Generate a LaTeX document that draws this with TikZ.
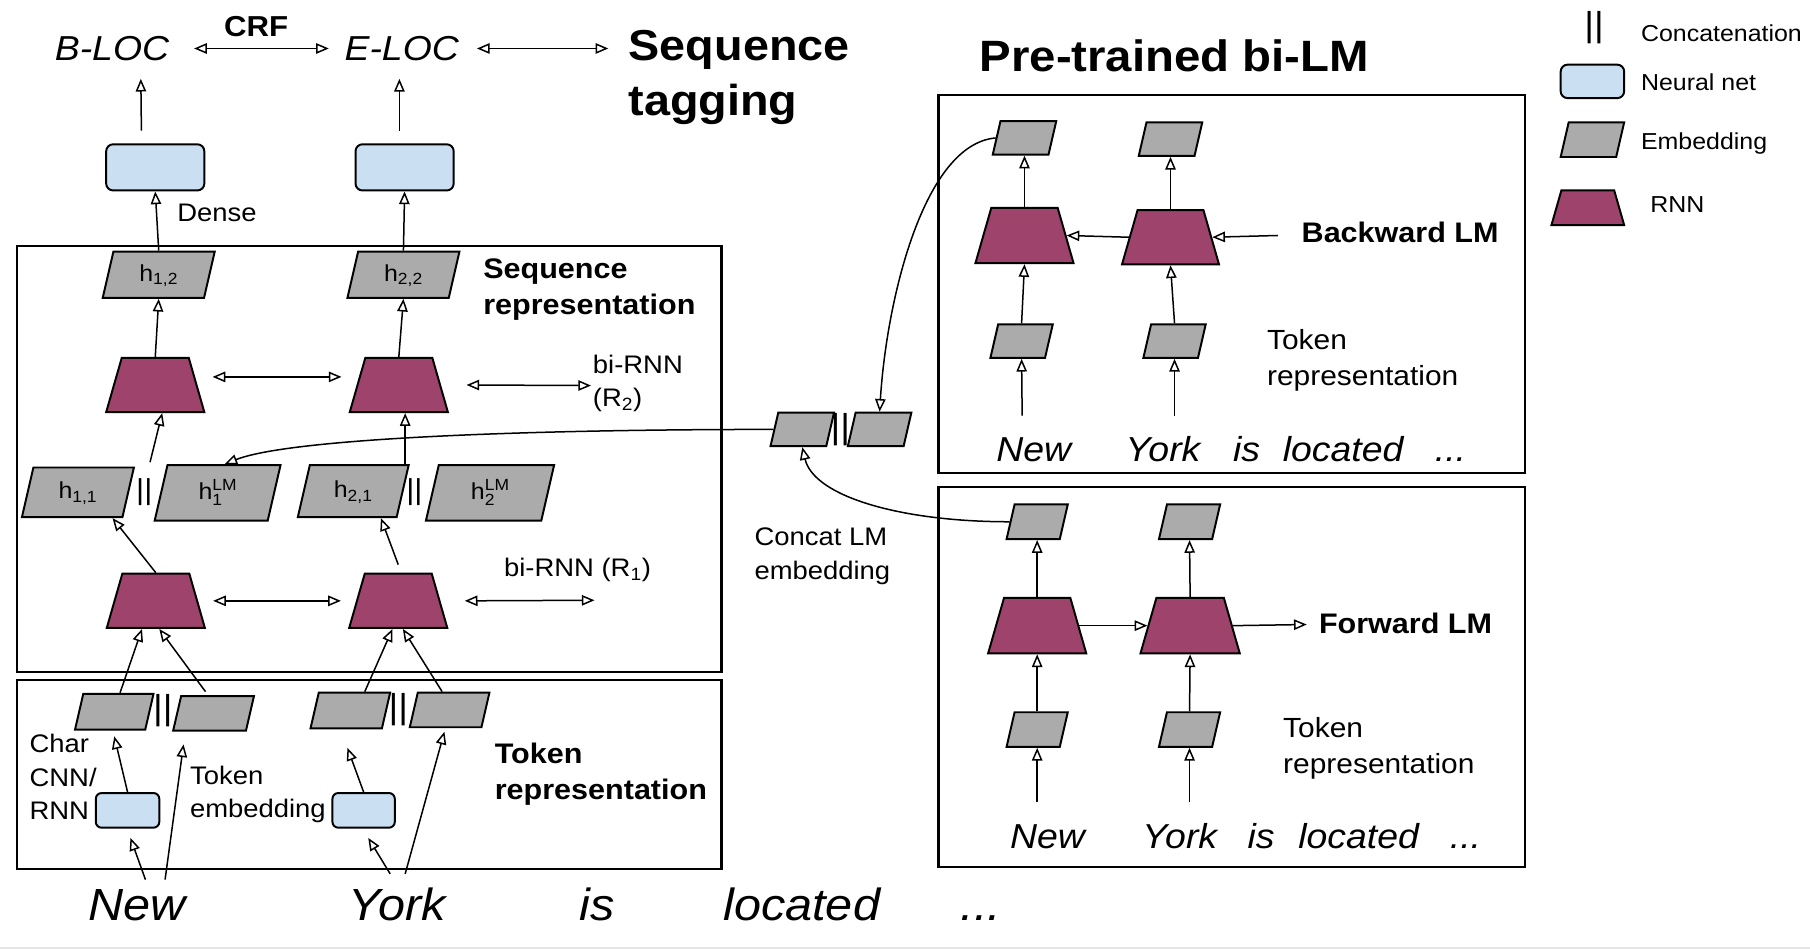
\documentclass[tikz,border=0pt]{standalone}
\usepackage{fontspec}
\setmainfont{Liberation Sans}[FakeStretch=1.08]
\usetikzlibrary{shapes.geometric,arrows.meta,calc}
\definecolor{nnblue}{HTML}{CADFF2}
\definecolor{embgray}{HTML}{ABABAB}
\definecolor{rnnred}{HTML}{9E446C}
\newcommand{\hlm}[1]{h\rlap{\raisebox{-5pt}{\fontsize{14}{14}\selectfont #1}}\raisebox{8pt}{\fontsize{14}{14}\selectfont LM}}

\begin{document}
\begin{tikzpicture}
[ x=1pt, y=-1pt, line width=1.3pt
, panel/.style={rectangle, draw, line width=1.8pt, inner sep=0pt}
, neural/.style={rectangle, draw, line width=1.7pt, rounded corners=6pt, fill=nnblue, inner sep=0pt, minimum width=85pt, minimum height=40pt}
, embed/.style={trapezium, trapezium left angle=77, trapezium right angle=103, trapezium stretches body, draw, line width=1.7pt, fill=embgray, inner xsep=0pt, text height=14pt, text depth=3pt, font=\fontsize{20}{24}\selectfont}
, rnn/.style={trapezium, trapezium angle=74, trapezium stretches body, draw, line width=1.7pt, fill=rnnred, inner xsep=0pt, inner ysep=23.5pt, text height=0pt, text depth=0pt, minimum width=85pt}
, concat/.style={inner sep=0pt, minimum height=44pt, font=\fontsize{25}{25}\selectfont}
, tag/.style={inner sep=0pt, font=\fontsize{30}{36}\selectfont\itshape}
, word/.style={anchor=base, inner sep=0pt, font=\fontsize{39}{47}\selectfont\itshape}
, lmword/.style={anchor=base, inner sep=0pt, font=\fontsize{30}{36}\selectfont\itshape}
, title/.style={anchor=west, align=left, inner sep=0pt, font=\fontsize{38}{48}\selectfont\bfseries}
, heading/.style={anchor=west, align=left, inner sep=0pt, font=\fontsize{24.5}{31}\selectfont\bfseries}
, plain/.style={anchor=west, align=left, inner sep=0pt, font=\fontsize{24}{31}\selectfont}
, note/.style={anchor=west, align=left, inner sep=0pt, font=\fontsize{22}{29}\selectfont}
, legend/.style={anchor=west, inner sep=0pt, font=\fontsize{20}{24}\selectfont}
, arrow/.style={-{Triangle[open, length=11pt, width=9pt]}}
, both/.style={{Triangle[open, length=11pt, width=9pt]}-{Triangle[open, length=11pt, width=9pt]}}
]
\useasboundingbox (0,0) rectangle (1568,823);
\draw [gray!20, line width=2pt] (0,821) -- (1568,821);

% Sequence tagging:
\node (bloc) [tag] at (97,42) {B-LOC};
\node (eloc) [tag] at (348,42) {E-LOC};
\node (crf) [inner sep=0pt, font=\fontsize{25}{30}\selectfont\bfseries] at (222,23) {CRF};
\node (seqtag) [title, font=\fontsize{37.5}{48}\selectfont\bfseries] at (544,67) {Sequence\\tagging};
\draw [both] ([xshift=21pt]bloc.east) -- ([xshift=-13pt]eloc.west);
\draw [both] ([xshift=15pt]eloc.east) -- ([xshift=-17pt]seqtag.west |- eloc.east);
\node (dense1) [neural] at (134.5,145) {};
\node (dense2) [neural] at (350.5,145) {};
\node (denselbl) [note] at (153,184) {Dense};
\draw [arrow] ($(dense1.north)+(-12,-11)$) -- ($(bloc.south)+(25,15)$);
\draw [arrow] ($(dense2.north)+(-4.5,-11)$) -- ($(eloc.south)+(-2,15)$);

% Sequence representation:
\node (seqbox) [panel, minimum width=610pt, minimum height=369pt] at (320,397.5) {};
\node (seqlbl) [heading] at (418,251) {Sequence\\representation};
\node (h12) [embed, minimum width=97pt, inner ysep=11.5pt] at (137.5,238) {h\textsubscript{1,2}};
\node (h22) [embed, minimum width=97pt, inner ysep=11.5pt] at (349.5,238) {h\textsubscript{2,2}};
\draw [arrow] (h12.north) -- (dense1.south);
\draw [arrow] (h22.north) -- (dense2.south);
\node (rnnA2) [rnn] at (134.5,333.5) {};
\node (rnnB2) [rnn] at (345.5,333.5) {};
\coordinate (rOut2) at (512,334);
\draw [arrow] (rnnA2.north) -- (h12.south);
\draw [arrow] (rnnB2.north) -- (h22.south);
\draw [both] ($(rnnA2.east)+(13,-7)$) -- ($(rnnB2.west)+(-13,-7)$);
\draw [both] ($(rnnB2.east)+(22,0)$) -- (rOut2);
\node (r2lbl) [note] at (513,332) {bi-RNN\\(R\textsubscript{2})};
\node (h11) [embed, minimum width=97pt, inner ysep=13pt] at (67.5,426.5) {h\textsubscript{1,1}};
\node (catA) [concat] at (125,426) {||};
\node (h1lm) [embed, minimum width=109pt, inner ysep=15.5pt] at (188.5,427) {\hlm{1}};
\node (h21) [embed, minimum width=96pt, inner ysep=14pt] at (306,425.5) {h\textsubscript{2,1}};
\node (catB) [concat] at (359,426) {||};
\node (h2lm) [embed, minimum width=111pt, inner ysep=15.5pt] at (424.5,427) {\hlm{2}};
\draw [arrow] ($(catA.north)+(5,-3)$) -- ($(rnnA2.south)+(6,0)$);
\draw [arrow] ($(catB.north)+(-8,0)$) -- ($(rnnB2.south)+(5.5,0)$);
\node (rnnA1) [rnn] at (135,520.5) {};
\node (rnnB1) [rnn] at (345,520.5) {};
\coordinate (rOut1) at (515,520);
\draw [arrow] (rnnA1.north) -- ($(h11.south)+(30,0)$);
\draw [arrow] ($(rnnB1.north)+(0,-7)$) -- ($(h21.south)+(24,0)$);
\draw [both] ($(rnnA1.east)+(13,0)$) -- ($(rnnB1.west)+(-13,0)$);
\draw [both] ($(rnnB1.east)+(21,0)$) -- (rOut1);
\node (r1lbl) [note] at (436,494) {bi-RNN (R\textsubscript{1})};

% Token representation:
\node (tokbox) [panel, minimum width=610pt, minimum height=164pt] at (320,671) {};
\node (tokA1) [embed, minimum width=68pt, inner ysep=7pt] at (99,616.5) {};
\node (catC) [concat, font=\fontsize{30}{30}\selectfont] at (141,616) {||};
\node (tokA2) [embed, minimum width=70pt, inner ysep=6.5pt] at (185,618) {};
\node (tokB1) [embed, minimum width=69pt, inner ysep=7pt] at (303.5,615.5) {};
\node (catD) [concat, font=\fontsize{30}{30}\selectfont] at (345,615) {||};
\node (tokB2) [embed, minimum width=69pt, inner ysep=6.5pt] at (389.5,615) {};
\draw [arrow] ($(tokA1.north)+(5,0)$) -- ($(rnnA1.south)+(-12,0)$);
\draw [arrow] ($(tokA2.north)+(-7,-3)$) -- ($(rnnA1.south)+(3,0)$);
\draw [arrow] ($(tokB1.north)+(12.5,0)$) -- ($(rnnB1.south)+(-5,0)$);
\draw [arrow] ($(tokB2.north)+(-6.5,0)$) -- ($(rnnB1.south)+(4,0)$);
\node (charA) [neural, minimum width=55pt, minimum height=30pt, rounded corners=5pt] at (110.5,702) {};
\node (charB) [neural, minimum width=54pt, minimum height=30pt, rounded corners=5pt] at (315,702) {};
\draw [arrow] (charA.north) -- ($(tokA1.south)+(0,5)$);
\draw [arrow] (charB.north) -- ($(tokB1.south)+(-2.5,16)$);
\node (charlbl) [note] at (25,673) {Char\\CNN/\\RNN};
\node (embedlbl) [note] at (164,688) {Token\\embedding};
\node (toklbl) [heading] at (428,671) {Token\\representation};
\node (wNew) [word] at (118.5,797) {New};
\node (wYork) [word] at (344,797) {York};
\node (wIs) [word] at (517,797) {is};
\node (wLocated) [word] at (694.5,797) {located};
\node (wDots) [word] at (850,797) {...};
\draw [arrow] ($(wNew.base)+(7.5,-35)$) -- ($(charA.south)+(2.5,8)$);
\draw [arrow] ($(wNew.base)+(24.5,-35)$) -- ($(tokA2.south)+(-26,11)$);
\draw [arrow] ($(wYork.base)+(-6,-40)$) -- ($(charB.south)+(4,8)$);
\draw [arrow] ($(wYork.base)+(7,-40)$) -- ($(tokB2.south)+(-4.5,3)$);

% Concat LM embedding:
\node (lmcatA) [embed, minimum width=55pt, inner ysep=6pt] at (695,372) {};
\node (catE) [concat, font=\fontsize{30}{30}\selectfont] at (728,372) {||};
\node (lmcatB) [embed, minimum width=55pt, inner ysep=6pt] at (762,372) {};
\node (lmlbl) [note] at (653,482) {Concat LM\\embedding};
\draw [arrow] (lmcatA.west) .. controls (450,372) and (250,380) .. ($(h1lm.north)+(6,0)$);

% Backward LM:
\node (bwdlbl) [title] at (848,48) {Pre-trained bi-LM};
\node (bwdbox) [panel, minimum width=508pt, minimum height=328pt] at (1067,246) {};
\node (bTop1) [embed, minimum width=55pt, inner ysep=6pt] at (887.5,119.5) {};
\node (bTop2) [embed, minimum width=55pt, inner ysep=6pt] at (1014,120.5) {};
\node (bRnn1) [rnn, inner ysep=24pt] at (887.5,204) {};
\node (bRnn2) [rnn, minimum width=84pt] at (1014,205.5) {};
\node (bTok1) [embed, minimum width=54pt, inner ysep=6pt] at (885,295.5) {};
\node (bTok2) [embed, minimum width=54pt, inner ysep=6pt] at (1017.5,295.5) {};
\coordinate (bIn) at (1107,204);
\node (bLbl) [heading] at (1127,201) {Backward LM};
\node (bTokLbl) [plain] at (1097,312) {Token\\representation};
\node (bNew) [lmword] at (895.5,400) {New};
\node (bYork) [lmword] at (1007.5,400) {York};
\node (bIs) [lmword] at (1080,400) {is};
\node (bLocated) [lmword] at (1163.5,400) {located};
\node (bDots) [lmword] at (1256.5,400) {...};
\draw [arrow] ($(bNew.base)+(-10,-40)$) -- (bTok1.south);
\draw [arrow] ($(bYork.base)+(10,-40)$) -- (bTok2.south);
\draw [arrow] (bTok1.north) -- (bRnn1.south);
\draw [arrow] (bTok2.north) -- (bRnn2.south);
\draw [arrow] (bRnn1.north) -- (bTop1.south);
\draw [arrow] (bRnn2.north) -- (bTop2.south);
\draw [arrow] (bRnn2.west) -- (bRnn1.east);
\draw [arrow] (bIn) -- (bRnn2.east);
\draw [arrow] (bTop1.west) .. controls (800,125) and (768,260) .. (lmcatB.north);

% Forward LM:
\node (fwdbox) [panel, minimum width=508pt, minimum height=329pt] at (1067,586.5) {};
\node (fTop1) [embed, minimum width=53pt, inner ysep=6.5pt] at (898.5,452) {};
\node (fTop2) [embed, minimum width=53pt, inner ysep=6.5pt] at (1030.5,452) {};
\node (fRnn1) [rnn, inner ysep=24pt] at (898.5,542) {};
\node (fRnn2) [rnn, minimum width=86pt, inner ysep=24pt] at (1031,542) {};
\node (fTok1) [embed, minimum width=53pt, inner ysep=6.5pt] at (898.5,632) {};
\node (fTok2) [embed, minimum width=53pt, inner ysep=6.5pt] at (1030.5,632) {};
\coordinate (fOut) at (1132,541);
\node (fLbl) [heading] at (1142,540) {Forward LM};
\node (fTokLbl) [plain] at (1111,648) {Token\\representation};
\node (fNew) [lmword] at (907.5,735) {New};
\node (fYork) [lmword] at (1022,735) {York};
\node (fIs) [lmword] at (1092.5,735) {is};
\node (fLocated) [lmword] at (1177,735) {located};
\node (fDots) [lmword] at (1269.5,735) {...};
\draw [arrow] ($(fNew.base)+(-9,-40)$) -- (fTok1.south);
\draw [arrow] ($(fYork.base)+(8.5,-40)$) -- (fTok2.south);
\draw [arrow] (fTok1.north) -- (fRnn1.south);
\draw [arrow] (fTok2.north) -- (fRnn2.south);
\draw [arrow] (fRnn1.north) -- (fTop1.south);
\draw [arrow] (fRnn2.north) -- (fTop2.south);
\draw [arrow] (fRnn1.east) -- (fRnn2.west);
\draw [arrow] (fRnn2.east) -- (fOut);
\draw [arrow] (fTop1.west) .. controls (780,452) and (705,430) .. (lmcatA.south);

% Legend:
\node (legCat) [concat, font=\fontsize{30}{30}\selectfont] at (1381,24) {||};
\node (legCatLbl) [legend] at (1421,29) {Concatenation};
\node (legNeural) [neural, minimum width=55pt, minimum height=29pt] at (1379.5,70.5) {};
\node (legNeuralLbl) [legend] at (1421,71) {Neural net};
\node (legEmbed) [embed, minimum width=55pt, inner ysep=6.5pt] at (1379.5,121) {};
\node (legEmbedLbl) [legend] at (1421,124) {Embedding};
\node (legRnn) [rnn, minimum width=63pt, inner ysep=15pt] at (1375.5,180) {};
\node (legRnnLbl) [legend] at (1429,177) {RNN};
\end{tikzpicture}
\end{document}
